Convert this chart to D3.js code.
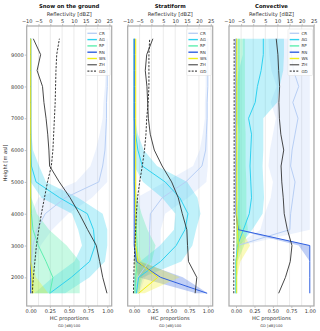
<!DOCTYPE html>
<html><head><meta charset="utf-8">
<script src="https://cdn.jsdelivr.net/npm/d3@7"></script>
<style>
body{margin:0;background:#fff;}
svg{display:block;font-family:"DejaVu Sans",sans-serif;}
svg text{fill:#333;}
</style>
</head><body>
<svg id="chart" width="320" height="331"></svg>
<script>
// ---------- DATA (index 0 = 1500 m ... 16 = 9500 m) ----------
const heights = [1500,2000,2500,3000,3500,4000,4500,5000,5500,6000,6500,7000,7500,8000,8500,9000,9500];
const panelTitles = ["Snow on the ground","Stratiform","Convective"];
const hcClasses = ["CR","AG","RP","RN","WS"];
const legendLabels = ["CR","AG","RP","RN","WS","ZH","GD"];
const refTicks = [-10,-5,0,5,10,15,20,25];
const hcTicks = [0,0.25,0.5,0.75,1];
const heightTicks = [2000,3000,4000,5000,6000,7000,8000,9000];

// Snow on the ground
const snowCR   = [0,0,0.01,0.03,0.08,0.19,0.45,0.89,0.94,0.97,0.98,0.99,0.99,1.0,1.0,1.0,1.0];
const snowCRsd = [0,0.02,0.05,0.1,0.2,0.3,0.35,0.3,0.16,0.12,0.08,0.05,0.04,0.03,0.02,0.02,0.02];
const snowAG   = [0.25,0.53,0.77,0.84,0.82,0.74,0.38,0.07,0.01,0,0,0,0,0,0,0,0];
const snowAGsd = [0.2,0.24,0.2,0.17,0.2,0.2,0.24,0.13,0.1,0.03,0.01,0,0,0,0,0,0];
const snowRP   = [0.25,0.29,0.2,0.1,0.03,0.01,0,0,0,0,0,0,0,0,0,0,0];
const snowRPsd = [0.39,0.35,0.44,0.37,0.21,0.07,0.01,0,0,0,0,0,0,0,0,0,0];
const snowRN   = [0,0,0,0,0,0,0,0,0,0,0,0,0,0,0,0,0];
const snowRNsd = [0,0,0,0,0,0,0,0,0,0,0,0,0,0,0,0,0];
const snowWS   = [0.03,0.02,0,0,0,0,0,0,0,0,0,0,0,0,0,0,0];
const snowWSsd = [0.2,0.05,0.01,0,0,0,0,0,0,0,0,0,0,0,0,0,0];
const snowZH   = [24.0,22.2,20.9,19.5,15.8,12.3,8.4,3.8,-0.3,-0.6,-1.1,-1.8,-2.7,-3.3,-5.6,-4.1,-7.2];
const snowGD   = [0.02,0.035,0.055,0.075,0.105,0.14,0.18,0.22,0.27,0.29,0.30,0.31,0.32,0.325,0.33,0.34,0.375];

// Stratiform
const stratCR   = [0.02,0.05,0.2,0.21,0.21,0.22,0.38,0.7,0.92,0.97,0.98,0.99,0.99,1.0,1.0,1.0,1.0];
const stratCRsd = [0.05,0.1,0.15,0.15,0.15,0.2,0.35,0.28,0.12,0.08,0.05,0.03,0.03,0.03,0.03,0.03,0.03];
const stratAG   = [0.03,0.06,0.36,0.57,0.69,0.73,0.62,0.42,0.11,0.05,0.02,0,0,0,0,0,0];
const stratAGsd = [0.03,0.06,0.28,0.22,0.15,0.17,0.24,0.3,0.2,0.08,0.03,0.01,0,0,0,0,0];
const stratRP   = [0.01,0.02,0.04,0.04,0.03,0.02,0.01,0,0,0,0,0,0,0,0,0,0];
const stratRPsd = [0.03,0.08,0.2,0.25,0.15,0.08,0.03,0,0,0,0,0,0,0,0,0,0];
const stratRN   = [0.99,0.36,0.03,0,0,0,0,0,0,0,0,0,0,0,0,0,0];
const stratRNsd = [0.15,0.3,0.04,0,0,0,0,0,0,0,0,0,0,0,0,0,0];
const stratWS   = [0.06,0.32,0.05,0.02,0.02,0.02,0.02,0.02,0.02,0.02,0.02,0.02,0.02,0.02,0.02,0.02,0.02];
const stratWSsd = [0.08,0.3,0.05,0.01,0.01,0.01,0.01,0.01,0.01,0.01,0.01,0.01,0.01,0.01,0.01,0.01,0.01];
const stratZH   = [18.4,19.1,15.6,15.2,14.9,13.0,11.3,8.5,4.5,1.2,-0.5,-1.3,-1.6,-1.9,-2.6,-2.0,0.6];
const stratGD   = [-0.01,-0.005,0.0,0.01,0.02,0.03,0.045,0.075,0.11,0.14,0.16,0.17,0.19,0.2,0.2,0.2,0.21];

// Convective
const convCR   = [0,0,0,0.02,0.73,0.74,0.77,0.8,0.74,0.76,0.8,0.84,0.77,0.85,0.78,0.75,0.74];
const convCRsd = [0,0,0,0.05,0.4,0.35,0.3,0.3,0.3,0.3,0.3,0.3,0.3,0.3,0.3,0.3,0.3];
const convAG   = [0,0,0,0.02,0.1,0.18,0.21,0.2,0.19,0.2,0.21,0.17,0.26,0.29,0.34,0.37,0.37];
const convAGsd = [0,0,0,0.03,0.12,0.18,0.17,0.17,0.17,0.17,0.16,0.2,0.3,0.3,0.3,0.28,0.28];
const convRP   = [0,0,0,0.03,0.04,0.04,0.04,0.04,0.04,0.04,0.04,0.04,0.04,0.04,0.04,0.04,0.04];
const convRPsd = [0,0,0.02,0.08,0.12,0.1,0.1,0.1,0.09,0.09,0.09,0.08,0.08,0.08,0.08,0.08,0.08];
const convRN   = [1,1,1,1,0.03,0,0,0,0,0,0,0,0,0,0,0,0];
const convRNsd = [0,0,0,0.15,0.02,0,0,0,0,0,0,0,0,0,0,0,0];
const convWS   = [0.01,0.01,0.01,0.03,0.02,0.01,0.01,0.01,0.01,0.01,0.01,0.01,0.01,0.01,0.01,0.01,0.01];
const convWSsd = [0,0,0.05,0.16,0.05,0.01,0.01,0.01,0.01,0.01,0.01,0.01,0.01,0.01,0.01,0.01,0.01];
const convZH   = [10.5,13.3,15.3,16.0,14.1,12.8,12.4,11.8,11.5,12.6,11.4,10.8,10.6,10.9,10.5,10.2,9.5];
const convGD   = [-0.03,-0.03,-0.03,-0.03,-0.025,-0.025,-0.025,-0.025,-0.025,-0.025,-0.025,-0.025,-0.025,-0.025,-0.025,-0.025,-0.025];

// ---------- assemble ----------
const panels = [
  {title:panelTitles[0], hc:{CR:[snowCR,snowCRsd],AG:[snowAG,snowAGsd],RP:[snowRP,snowRPsd],RN:[snowRN,snowRNsd],WS:[snowWS,snowWSsd]}, zh:snowZH, gd:snowGD,
   x0:26.7, xDom:[-0.052,1.058], zDom:[-10,26]},
  {title:panelTitles[1], hc:{CR:[stratCR,stratCRsd],AG:[stratAG,stratAGsd],RP:[stratRP,stratRPsd],RN:[stratRN,stratRNsd],WS:[stratWS,stratWSsd]}, zh:stratZH, gd:stratGD,
   x0:127.7, xDom:[-0.088,1.066], zDom:[-10,25.8]},
  {title:panelTitles[2], hc:{CR:[convCR,convCRsd],AG:[convAG,convAGsd],RP:[convRP,convRPsd],RN:[convRN,convRNsd],WS:[convWS,convWSsd]}, zh:convZH, gd:convGD,
   x0:229, xDom:[-0.095,1.057], zDom:[-10,25.1]}
];

const colors = {CR:"#b8cff5", AG:"#2fd2f0", RP:"#5eefb0", RN:"#3060e0", WS:"#eeee1a"};
const fillColors = {CR:"#a9c6f5", AG:"#2fd2f0", RP:"#5eefb0", RN:"#3060e0", WS:"#eeee1a"};
const fillOp = {CR:0.22, AG:0.3, RP:0.35, RN:0.3, WS:0.3};

const W = 85, topY = 26, botY = 306;
const svg = d3.select("#chart");
const y = d3.scaleLinear().domain([1100,9900]).range([botY, topY]);
const axisColor = "#aaaaaa", textColor = "#333";

function styleText(sel, size) {
  sel.attr("font-size", size).attr("font-family", "DejaVu Sans")
     .attr("fill", textColor).style("fill", textColor);
}

panels.forEach((p, pi) => {
  const x = d3.scaleLinear().domain(p.xDom).range([p.x0, p.x0 + W]);
  const z = d3.scaleLinear().domain(p.zDom).range([p.x0, p.x0 + W]);
  const g = svg.append("g");

  const clipId = "clip" + pi;
  svg.append("clipPath").attr("id", clipId).append("rect")
    .attr("x", p.x0).attr("y", topY).attr("width", W).attr("height", botY - topY);

  g.append("g").selectAll("line").data(refTicks.filter(t => t > p.zDom[0] && t < p.zDom[1])).join("line")
    .attr("x1", d => z(d)).attr("x2", d => z(d)).attr("y1", topY).attr("y2", botY)
    .attr("stroke", "#e6e6e6").attr("stroke-width", 0.8);

  const plot = g.append("g").attr("clip-path", `url(#${clipId})`);
  const idx = d3.range(heights.length);

  hcClasses.forEach(k => {
    const [m, s] = p.hc[k];
    const area = d3.area()
      .y(i => y(heights[i]))
      .x0(i => x(Math.max(0, m[i] - s[i])))
      .x1(i => x(Math.min(1, m[i] + s[i])));
    plot.append("path").datum(idx).attr("d", area)
      .attr("fill", fillColors[k]).attr("fill-opacity", fillOp[k]).attr("stroke", "none");
  });
  hcClasses.forEach(k => {
    const [m] = p.hc[k];
    const line = d3.line().x(i => x(m[i])).y(i => y(heights[i]));
    plot.append("path").datum(idx).attr("d", line)
      .attr("fill", "none").attr("stroke", colors[k]).attr("stroke-width", 1);
  });
  plot.append("path").datum(idx)
    .attr("d", d3.line().x(i => z(p.zh[i])).y(i => y(heights[i])))
    .attr("fill", "none").attr("stroke", "#333").attr("stroke-width", 0.9);
  plot.append("path").datum(idx)
    .attr("d", d3.line().x(i => x(p.gd[i])).y(i => y(heights[i])))
    .attr("fill", "none").attr("stroke", "#222").attr("stroke-width", 0.9)
    .attr("stroke-dasharray", "2.2,1.4");

  g.append("rect").attr("x", p.x0).attr("y", topY).attr("width", W).attr("height", botY - topY)
    .attr("fill", "none").attr("stroke", axisColor).attr("stroke-width", 1.2);

  const ax = g.append("g").attr("transform", `translate(0,${topY})`)
    .call(d3.axisTop(z).tickValues(refTicks).tickSize(2).tickPadding(1.2));
  ax.select(".domain").remove();
  ax.selectAll(".tick line").attr("stroke", axisColor).attr("stroke-width", 0.7);
  styleText(ax.selectAll(".tick text"), 5);

  const bx = g.append("g").attr("transform", `translate(0,${botY})`)
    .call(d3.axisBottom(x).tickValues(hcTicks).tickFormat(d3.format(".2f")).tickSize(2).tickPadding(1.2));
  bx.select(".domain").remove();
  bx.selectAll(".tick line").attr("stroke", axisColor).attr("stroke-width", 0.7);
  styleText(bx.selectAll(".tick text"), 5);

  const cx = p.x0 + W / 2;
  g.append("text").attr("x", cx).attr("y", 8).attr("text-anchor", "middle")
    .attr("font-size", 5.3).attr("font-weight", "bold").style("fill", "#111").text(p.title);
  styleText(g.append("text").attr("x", cx).attr("y", 15.8).attr("text-anchor", "middle").text("Reflectivity [dBZ]"), 5.2);
  styleText(g.append("text").attr("x", cx).attr("y", 320).attr("text-anchor", "middle").text("HC proportions"), 5.2);
  styleText(g.append("text").attr("x", cx).attr("y", 326.6).attr("text-anchor", "middle").text("GD [dB]/100"), 3.6);

  if (pi === 0) {
    const lx = g.append("g").attr("transform", `translate(${p.x0},0)`)
      .call(d3.axisLeft(y).tickValues(heightTicks).tickFormat(d3.format("d")).tickSize(2).tickPadding(1));
    lx.select(".domain").remove();
    lx.selectAll(".tick line").attr("stroke", axisColor).attr("stroke-width", 0.7);
    styleText(lx.selectAll(".tick text"), 5);
    styleText(g.append("text").attr("transform", `translate(6.5,${(topY + botY) / 2 - 3}) rotate(-90)`)
      .attr("text-anchor", "middle").text("Height [m asl]"), 5.2);
  }

  const lg = g.append("g").attr("transform", `translate(${p.x0 + W - 26},${topY + 3})`);
  lg.append("rect").attr("x", 0).attr("y", 0).attr("width", 24.5).attr("height", 46.5).attr("rx", 1)
    .attr("fill", "#fff").attr("fill-opacity", 0.8).attr("stroke", "#dddddd").attr("stroke-width", 0.5);
  legendLabels.forEach((lab, i) => {
    const yy = 4.3 + i * 6.3;
    const isHC = hcClasses.includes(lab);
    lg.append("line").attr("x1", 1.7).attr("x2", 11.2).attr("y1", yy).attr("y2", yy)
      .attr("stroke", isHC ? colors[lab] : (lab === "ZH" ? "#333" : "#222"))
      .attr("stroke-width", isHC ? 1.4 : 1)
      .attr("stroke-dasharray", lab === "GD" ? "2,1.3" : null);
    styleText(lg.append("text").attr("x", 13.4).attr("y", yy + 1.4).text(lab), 4);
  });
});
</script>
</body></html>
